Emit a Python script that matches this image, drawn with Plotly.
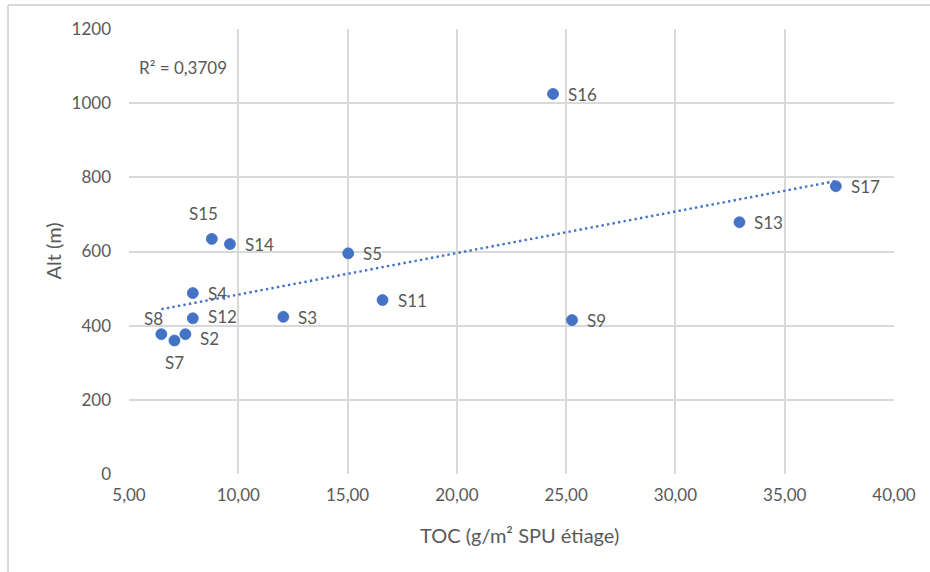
import numpy as np
import plotly.graph_objects as go

# ---- data ----
sites = ["S2", "S3", "S4", "S5", "S7", "S8", "S9", "S11", "S12", "S13", "S14", "S15", "S16", "S17"]
toc = [7.58, 12.06, 7.92, 15.03, 7.08, 6.48, 25.27, 16.60, 7.92, 32.93, 9.62, 8.79, 24.40, 37.34]
alt = [377, 424, 488, 595, 360, 377, 415, 469, 420, 679, 620, 634, 1025, 776]
x_ticks = [5, 10, 15, 20, 25, 30, 35, 40]
y_ticks = [0, 200, 400, 600, 800, 1000, 1200]
r2_label = "R² = 0,3709"
x_title = "TOC (g/m² SPU étiage)"
y_title = "Alt (m)"

# label placement (style): (xanchor, xshift, yshift)
label_pos = {
    "S8": ("right", 3, 16),
    "S7": ("center", 0, -21),
    "S15": ("center", -8, 26),
    "S2": ("left", 14, -4),
    "S12": ("left", 14, 2),
}

BLUE = "#4472C4"
TXT = "#595959"
GRID = "#D9D9D9"
FONT = "Lato, 'Open Sans', sans-serif"

fig = go.Figure()

# linear trendline (least squares)
xa = np.array(toc)
ya = np.array(alt)
slope, intercept = np.polyfit(xa, ya, 1)
tx = [xa.min(), xa.max()]
ty = [slope * v + intercept for v in tx]
fig.add_trace(go.Scatter(
    x=tx, y=ty, mode="lines",
    line=dict(color=BLUE, width=2.4, dash="2.4px,3.2px"),
    hoverinfo="skip", showlegend=False,
))

fig.add_trace(go.Scatter(
    x=toc, y=alt, mode="markers",
    marker=dict(color=BLUE, size=11, line=dict(color=BLUE, width=0.8)),
    text=sites, showlegend=False,
))

for s, xv, yv in zip(sites, toc, alt):
    anchor, xs, ys = label_pos.get(s, ("left", 14, 0))
    fig.add_annotation(
        x=xv, y=yv, text=s, showarrow=False,
        xanchor=anchor, yanchor="middle", xshift=xs, yshift=ys,
        borderpad=0, height=18,
        font=dict(family=FONT, size=17, color=TXT),
    )

# R² label
fig.add_annotation(
    x=0, y=1, xref="paper", yref="paper", text=r2_label, showarrow=False,
    xanchor="left", yanchor="middle", xshift=8, yshift=-38,
    font=dict(family=FONT, size=17, color=TXT),
)

# axis titles
fig.add_annotation(
    x=0.5, y=0, xref="paper", yref="paper", text=x_title, showarrow=False,
    xanchor="center", yanchor="middle", xshift=8, yshift=-61,
    font=dict(family=FONT, size=20, color=TXT),
)
fig.add_annotation(
    x=0, y=0.5, xref="paper", yref="paper", text=y_title, showarrow=False,
    xanchor="center", yanchor="middle", xshift=-77, textangle=-90,
    font=dict(family=FONT, size=20, color=TXT),
)

# chart outer border (top and left edges visible)
fig.add_shape(type="line", xref="paper", yref="paper",
              x0=-0.1582, x1=1.06, y0=1.0539, y1=1.0539,
              line=dict(color=GRID, width=2))
fig.add_shape(type="line", xref="paper", yref="paper",
              x0=-0.1582, x1=-0.1582, y0=1.0539, y1=-0.25,
              line=dict(color=GRID, width=2))

fig.update_layout(
    width=930, height=572,
    margin=dict(l=129, r=36, t=29, b=98),
    paper_bgcolor="white", plot_bgcolor="white",
    separators=", ",
    font=dict(family=FONT, color=TXT, size=17),
    showlegend=False,
)
fig.update_xaxes(
    range=[5, 40], tickvals=x_ticks, tickformat=".2f",
    showgrid=True, gridcolor=GRID, gridwidth=1.5,
    showline=False, zeroline=False, ticks="",
    ticklabelstandoff=9,
    tickfont=dict(family=FONT, size=17, color=TXT),
)
fig.update_yaxes(
    range=[0, 1200], tickvals=y_ticks, tickformat="d",
    showgrid=True, gridcolor=GRID, gridwidth=1.5,
    showline=False, zeroline=False, ticks="",
    ticklabelstandoff=17,
    tickfont=dict(family=FONT, size=17, color=TXT),
)

fig.write_html("out.html", config={"displayModeBar": False},
               post_script="document.body.style.margin='0px';")
